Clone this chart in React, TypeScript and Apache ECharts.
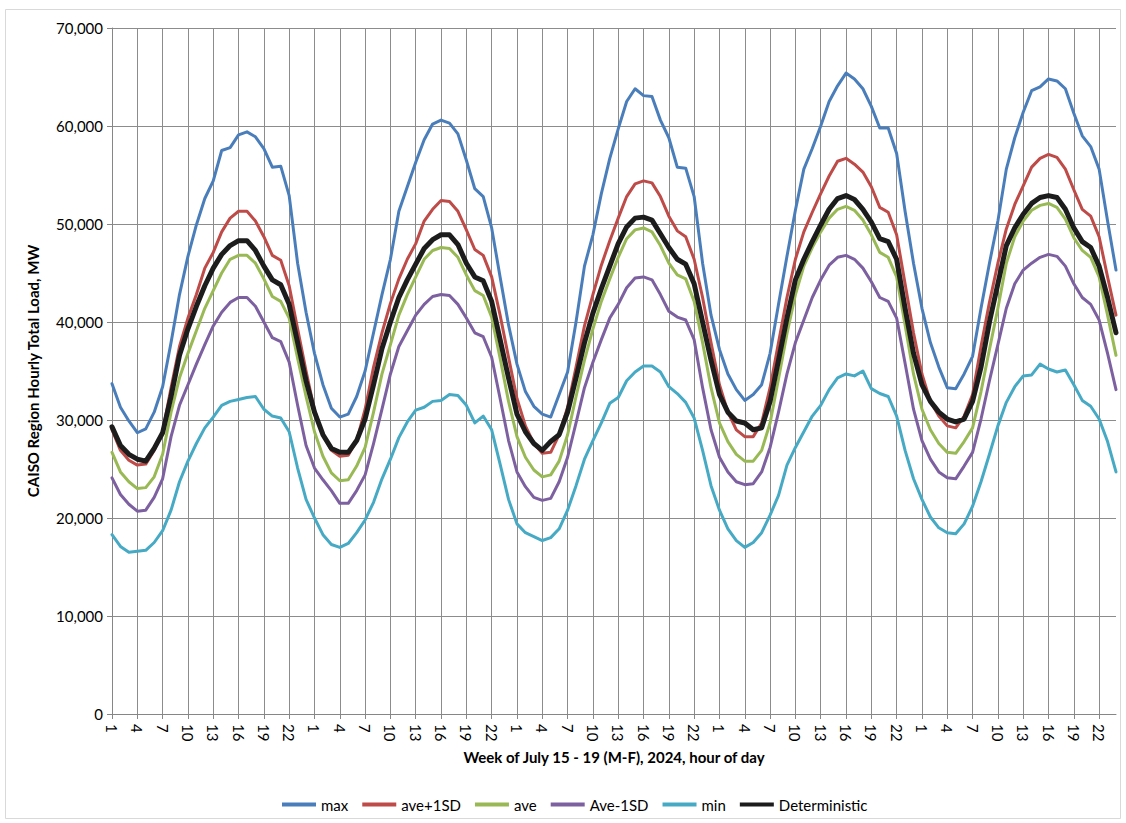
import React, { useEffect, useRef } from "react";
import * as echarts from "echarts";

const FONT = "Lato, 'Open Sans', sans-serif";

const dayNames = ["Mon 15", "Tue 16", "Wed 17", "Thu 18", "Fri 19"];
const hourOfDay = [1, 2, 3, 4, 5, 6, 7, 8, 9, 10, 11, 12, 13, 14, 15, 16, 17, 18, 19, 20, 21, 22, 23, 24];

const seriesNames = ["max", "ave+1SD", "ave", "Ave-1SD", "min", "Deterministic"];
const seriesColors = ["#4A7EBB", "#BE4B48", "#98B954", "#7D60A0", "#46AAC5", "#1C1C1C"];

const maxLoad = [
  33700, 31300, 29900, 28700, 29100, 30800, 33400, 37900, 42800, 46700, 49900, 52600, 54400, 57500, 57800, 59100, 59400, 58900, 57700, 55800, 55900, 52900, 46000, 41000,
  36800, 33600, 31200, 30300, 30600, 32400, 35000, 38900, 42800, 46400, 51300, 53800, 56300, 58600, 60200, 60600, 60300, 59200, 56500, 53600, 52800, 49600, 44600, 39700,
  35700, 32900, 31400, 30600, 30300, 32600, 34900, 40000, 45700, 48900, 53100, 56700, 59700, 62500, 63800, 63100, 63000, 60600, 58800, 55800, 55700, 52800, 46000, 40700,
  37200, 34700, 33100, 32000, 32600, 33600, 36800, 41800, 46700, 51400, 55600, 57700, 60000, 62500, 64100, 65400, 64800, 63800, 62000, 59800, 59800, 57200, 51300, 46000,
  41400, 37900, 35400, 33300, 33200, 34700, 36500, 41400, 46000, 50300, 55600, 58800, 61400, 63600, 64000, 64800, 64600, 63800, 61300, 59000, 57900, 55600, 50300, 45300,
];

const avePlus1SD = [
  29000, 26900, 25900, 25400, 25500, 26900, 28800, 33300, 37500, 40400, 42800, 45500, 47100, 49200, 50600, 51300, 51300, 50300, 48700, 46800, 46300, 43700, 39300, 35000,
  31000, 28500, 26900, 26300, 26400, 27900, 31100, 35400, 38900, 41900, 44400, 46400, 48000, 50300, 51500, 52400, 52300, 51300, 49400, 47400, 46800, 44600, 40700, 36400,
  32200, 29400, 27600, 26600, 26700, 28500, 31300, 35400, 39600, 42800, 45800, 48300, 50600, 52800, 54100, 54400, 54200, 52800, 50800, 49300, 48700, 46400, 42500, 37900,
  33600, 30800, 29000, 28300, 28300, 29700, 33300, 37900, 42500, 46400, 49200, 51200, 53100, 54900, 56400, 56700, 56100, 55300, 53800, 51700, 51200, 48900, 43900, 38900,
  34700, 31900, 30400, 29400, 29200, 30400, 32600, 37500, 42000, 46000, 49500, 52000, 53900, 55800, 56700, 57100, 56800, 55600, 53500, 51500, 50800, 48700, 44600, 40700,
];

const aveLoad = [
  26700, 24700, 23700, 23000, 23100, 24200, 26500, 30800, 34300, 36800, 39100, 41400, 43200, 45000, 46400, 46800, 46800, 46000, 44400, 42600, 42100, 40400, 36300, 32400,
  28800, 26300, 24600, 23800, 23900, 25300, 27200, 30800, 34700, 37700, 40700, 42800, 44600, 46400, 47300, 47600, 47500, 46600, 44800, 43200, 42700, 40500, 36300, 31900,
  28300, 26200, 24900, 24200, 24400, 25800, 28500, 32400, 36100, 39300, 42100, 44400, 46600, 48500, 49400, 49600, 49200, 47800, 46000, 44800, 44400, 42100, 37900, 33300,
  29700, 27800, 26500, 25800, 25800, 26900, 29700, 34200, 38800, 42800, 45700, 47600, 49200, 50600, 51500, 51800, 51400, 50400, 48900, 47100, 46600, 44600, 39700, 34700,
  31100, 29000, 27600, 26700, 26600, 27800, 29200, 32900, 37200, 41400, 46000, 48700, 50300, 51400, 51900, 52100, 51700, 50500, 48600, 47300, 46600, 44600, 40700, 36600,
];

const aveMinus1SD = [
  24100, 22400, 21400, 20700, 20800, 22100, 24000, 28300, 31500, 33600, 35700, 37700, 39600, 41000, 42000, 42500, 42500, 41600, 40000, 38400, 38000, 35900, 31500, 27400,
  25100, 23900, 22800, 21500, 21500, 22800, 24400, 27600, 31100, 34700, 37500, 39100, 40700, 41800, 42600, 42800, 42700, 41800, 40400, 38900, 38500, 36400, 32200, 27900,
  24700, 23200, 22100, 21800, 22000, 23700, 26200, 29700, 33300, 35900, 38200, 40400, 41800, 43500, 44500, 44600, 44300, 42800, 41100, 40500, 40200, 38200, 33300, 29000,
  26200, 24700, 23700, 23400, 23500, 24700, 27200, 30800, 34700, 37900, 40200, 42500, 44300, 45800, 46600, 46800, 46400, 45500, 44100, 42500, 42100, 40400, 35800, 31100,
  27900, 26000, 24700, 24100, 24000, 25300, 26700, 30100, 34000, 37700, 41400, 43900, 45300, 46000, 46600, 46900, 46700, 45700, 43900, 42500, 41800, 40200, 36800, 33100,
];

const minLoad = [
  18300, 17100, 16500, 16600, 16700, 17500, 18700, 20800, 23700, 25800, 27600, 29200, 30300, 31500, 31900, 32100, 32300, 32400, 31100, 30400, 30200, 28800, 25100, 21900,
  20000, 18300, 17300, 17000, 17400, 18500, 19800, 21600, 24000, 26000, 28200, 29800, 31000, 31300, 31900, 32000, 32600, 32500, 31500, 29700, 30400, 29000, 25500, 21900,
  19400, 18500, 18100, 17700, 18000, 18900, 20800, 23300, 26000, 27900, 29700, 31700, 32300, 34000, 34900, 35500, 35500, 34900, 33400, 32700, 31800, 30200, 26900, 23300,
  20800, 18900, 17700, 17000, 17500, 18500, 20300, 22300, 25400, 27200, 28800, 30400, 31500, 33100, 34300, 34700, 34500, 35000, 33200, 32700, 32400, 30400, 26900, 24000,
  21900, 20100, 19000, 18500, 18400, 19400, 21200, 23700, 26500, 29400, 31800, 33400, 34500, 34600, 35700, 35200, 34900, 35100, 33600, 32000, 31400, 30100, 27800, 24700,
];

const deterministic = [
  29300, 27400, 26500, 26000, 25800, 27100, 28700, 32400, 36600, 39300, 41600, 43700, 45500, 46900, 47800, 48300, 48300, 47300, 45700, 44300, 43800, 41800, 37900, 34000,
  30800, 28500, 27100, 26700, 26700, 27900, 30100, 33600, 37300, 40000, 42500, 44300, 45900, 47500, 48400, 48900, 48900, 47900, 46000, 44600, 44200, 42100, 38200, 34300,
  30600, 28800, 27600, 26900, 27800, 28500, 30800, 34300, 37900, 40900, 43400, 45700, 48000, 49700, 50600, 50700, 50400, 49000, 47600, 46400, 45900, 43900, 40000, 36100,
  32600, 30800, 29900, 29700, 29000, 29200, 31900, 36100, 40400, 44300, 46400, 48200, 49900, 51500, 52600, 52900, 52500, 51500, 50200, 48500, 48200, 46400, 41400, 36800,
  33600, 31900, 30800, 30100, 29800, 30100, 31900, 35400, 40000, 43900, 47800, 49600, 51000, 52100, 52700, 52900, 52700, 51500, 49600, 48200, 47600, 45700, 42500, 38900,
];

const yTicks = { min: 0, max: 70000, interval: 10000 };
const xTitle = "Week of July 15 - 19 (M-F), 2024, hour of day";
const yTitle = "CAISO Region Hourly Total Load, MW";

export default function App() {
  const ref = useRef<HTMLDivElement>(null);

  useEffect(() => {
    if (!ref.current) return;
    const chart = echarts.init(ref.current, null, { renderer: "svg" });

    const categories: { value: string; day: string }[] = [];
    dayNames.forEach((d) => hourOfDay.forEach((h) => categories.push({ value: String(h), day: d })));

    const allData = [maxLoad, avePlus1SD, aveLoad, aveMinus1SD, minLoad, deterministic];

    const option: any = {
      animation: false,
      textStyle: { fontFamily: FONT },
      graphic: [
        {
          type: "rect",
          shape: { x: 5.5, y: 9.5, width: 1115, height: 809 },
          style: { fill: "none", stroke: "#D9D9D9", lineWidth: 1 },
          silent: true,
          z: -10,
        },
      ],
      grid: { left: 112, right: 10, top: 28, bottom: 109, containLabel: false },
      legend: {
        data: seriesNames.map((name, k) => ({
          name,
          icon: "rect",
          itemStyle: { color: seriesColors[k] },
        })),
        left: 277,
        top: 792,
        itemWidth: 34,
        itemHeight: 4,
        itemGap: 14,
        textStyle: { fontFamily: FONT, fontSize: 15, color: "#000" },
      },
      xAxis: {
        type: "category",
        data: categories.map((c) => c.value),
        boundaryGap: false,
        axisLine: { lineStyle: { color: "#868686", width: 1 } },
        axisTick: { show: true, interval: 2, length: 5, lineStyle: { color: "#868686" } },
        axisLabel: { interval: 2, rotate: -90, color: "#000", fontSize: 15, margin: 10, fontFamily: FONT },
        splitLine: { show: true, interval: 2, lineStyle: { color: "#8C8C8C", width: 1 } },
        name: xTitle,
        nameLocation: "middle",
        nameGap: 35,
        nameTextStyle: { fontWeight: "bold", fontSize: 15, color: "#000", fontFamily: FONT },
      },
      yAxis: {
        type: "value",
        min: yTicks.min,
        max: yTicks.max,
        interval: yTicks.interval,
        axisLine: { show: true, lineStyle: { color: "#868686", width: 1 } },
        axisTick: { show: true, length: 5, lineStyle: { color: "#868686" } },
        axisLabel: {
          formatter: (v: number) => v.toLocaleString("en-US"),
          fontSize: 15,
          color: "#000",
          margin: 9,
          fontFamily: FONT,
        },
        splitLine: { show: true, lineStyle: { color: "#8C8C8C", width: 1 } },
        name: yTitle,
        nameLocation: "middle",
        nameGap: 72,
        nameTextStyle: { fontWeight: "bold", fontSize: 15, color: "#000", fontFamily: FONT },
      },
      series: seriesNames.map((name, k) => ({
        name,
        type: "line",
        data: allData[k],
        symbol: "none",
        showSymbol: false,
        color: seriesColors[k],
        lineStyle: { color: seriesColors[k], width: k === 5 ? 5 : 3, join: "round", cap: "round" },
        z: k === 5 ? 10 : 2 + k,
      })),
    };

    chart.setOption(option);
    return () => chart.dispose();
  }, []);

  return (
    <div
      ref={ref}
      style={{ position: "absolute", left: 0, top: 0, width: 1126, height: 823, background: "#fff" }}
    />
  );
}
